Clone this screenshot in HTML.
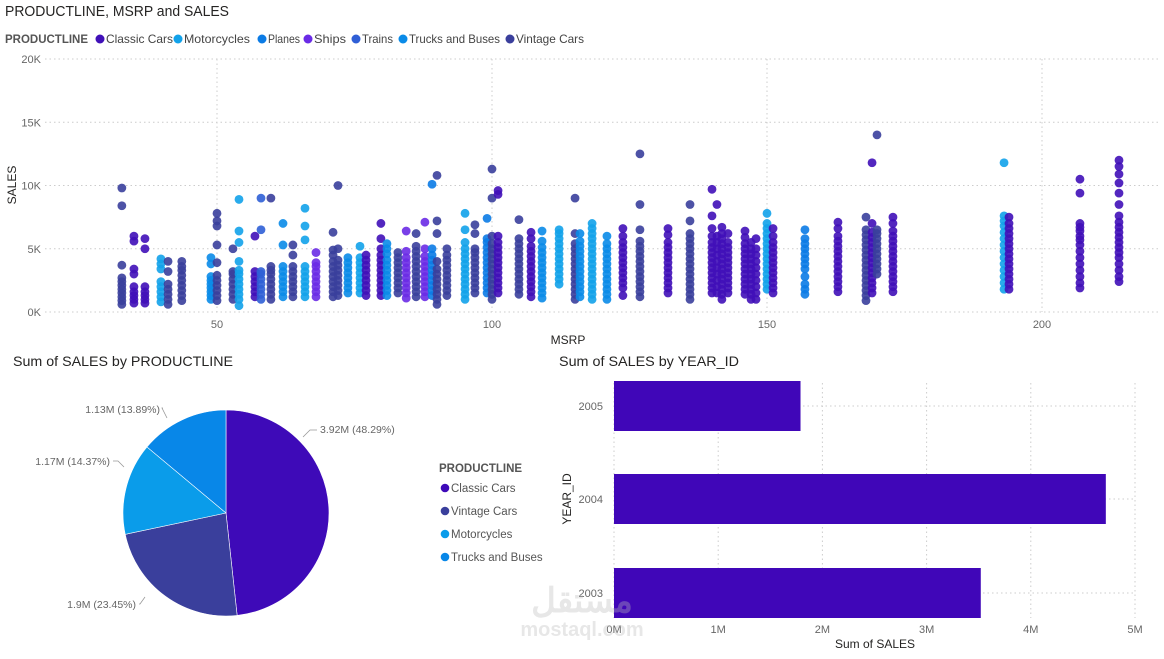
<!DOCTYPE html>
<html><head><meta charset="utf-8"><style>
html,body{margin:0;padding:0;background:#fff;}
body{width:1164px;height:654px;overflow:hidden;font-family:"Liberation Sans","DejaVu Sans",sans-serif;}
svg text{font-family:"Liberation Sans","Noto Sans CJK SC",sans-serif;}
</style></head><body>
<svg id="root" width="1164" height="654" viewBox="0 0 1164 654" xmlns="http://www.w3.org/2000/svg">
<text x="5" y="16" font-size="15" fill="#252423" textLength="224" lengthAdjust="spacingAndGlyphs">PRODUCTLINE, MSRP and SALES</text>
<g id="legend"></g>
<g id="scatter"></g>
<text x="568" y="344" font-size="12" fill="#252423" text-anchor="middle">MSRP</text>
<text transform="translate(16,185) rotate(-90)" font-size="12" fill="#252423" text-anchor="middle">SALES</text>
<text x="13" y="366" font-size="14" fill="#252423" textLength="220" lengthAdjust="spacingAndGlyphs">Sum of SALES by PRODUCTLINE</text>
<g id="pie"></g>
<g id="pieLegend"></g>
<text x="559" y="366" font-size="14" fill="#252423" textLength="180" lengthAdjust="spacingAndGlyphs">Sum of SALES by YEAR_ID</text>
<g id="bars"></g>
<text transform="translate(571,499) rotate(-90)" font-size="12" fill="#252423" text-anchor="middle">YEAR_ID</text>
<text x="875" y="648" font-size="12" fill="#252423" text-anchor="middle">Sum of SALES</text>
<g opacity="0.35"><text x="582" y="612" font-size="34" font-weight="bold" fill="#bbb" text-anchor="middle" font-family="DejaVu Sans,sans-serif">مستقل</text><text x="582" y="636" font-size="20" font-weight="bold" fill="#bbb" text-anchor="middle">mostaql.com</text></g>
</svg>
<script>
const NS="http://www.w3.org/2000/svg";
const lineNames=["Classic Cars","Motorcycles","Planes","Ships","Trains","Trucks and Buses","Vintage Cars"];
const lineColors=["#4010b8","#12a2ea","#0b7be5","#6a2be6","#2f5fd6","#0a8be8","#3a3f9c"];
// scatter columns: msrp, productline index, sales (K)
const colMsrp=[32.7,34.9,36.9,39.8,41.1,43.6,48.9,50,52.9,54,56.9,58,59.8,62,63.8,66,68,71.1,72,73.8,76,77.1,79.8,80.9,82.9,84.4,86.2,87.8,89.1,90,91.8,95.1,96.9,99.1,100,101.1,104.9,107.1,109.1,112.2,115.1,116,118.2,120.9,123.8,126.9,132,136,140,140.9,141.8,142.9,146,147.1,148,150,151.1,156.9,162.9,168,169.1,170,172.9,193.1,194,206.9,214];
const colLine=[6,0,0,1,6,6,5,6,6,1,0,4,6,5,6,1,3,6,6,5,1,0,0,5,6,3,6,3,2,6,6,1,6,2,6,0,6,0,5,1,6,5,1,5,0,6,0,6,0,0,0,0,0,0,0,1,0,2,0,6,0,6,0,1,0,0,0];
const colSales=[
[0.6,0.9,1.2,1.5,1.8,2.1,2.4,2.7,3.7,8.4,9.8],
[0.7,1.0,1.3,1.6,2.0,3.0,3.4,5.6,6.0],
[0.7,1.0,1.3,1.6,2.0,5.0,5.8],
[0.8,1.2,1.6,2.0,2.4,3.4,3.8,4.2],
[0.6,1.0,1.4,1.8,2.2,3.2,4.0],
[0.9,1.3,1.7,2.1,2.5,2.9,3.3,3.6,4.0],
[1.0,1.3,1.6,1.9,2.2,2.5,2.8,3.8,4.3],
[0.9,1.3,1.7,2.1,2.5,2.9,3.9,5.3,6.8,7.2,7.8],
[1.0,1.4,1.8,2.2,2.6,3.0,3.2,5.0],
[0.5,1.0,1.4,1.8,2.2,2.6,3.0,3.3,4.0,5.5,6.4,8.9],
[1.2,1.6,2.0,2.4,2.8,3.2,6.0],
[1.0,1.4,1.8,2.2,2.6,3.0,3.2,6.5,9.0],
[1.0,1.4,1.8,2.2,2.6,3.0,3.3,3.6,9.0],
[1.2,1.6,2.0,2.4,2.8,3.2,3.6,5.3,7.0],
[1.2,1.6,2.0,2.4,2.8,3.2,3.6,4.5,5.3],
[1.2,1.6,2.0,2.4,2.8,3.2,3.6,5.7,6.8,8.2],
[1.2,1.6,2.0,2.4,2.8,3.2,3.6,3.9,4.7],
[1.2,1.6,2.0,2.4,2.8,3.2,3.6,4.0,4.5,4.9,6.3],
[1.3,1.7,2.1,2.5,2.9,3.3,3.7,4.1,5.0,10.0],
[1.5,1.9,2.3,2.7,3.1,3.5,3.9,4.3],
[1.5,1.9,2.3,2.7,3.1,3.5,3.9,4.3,5.2],
[1.3,1.7,2.1,2.5,2.9,3.3,3.7,4.1,4.5],
[1.3,1.7,2.1,2.5,2.9,3.3,3.7,4.1,4.5,5.0,5.8,7.0],
[1.3,1.7,2.1,2.5,2.9,3.3,3.7,4.1,4.6,5.0,5.4],
[1.5,1.9,2.3,2.7,3.1,3.5,3.9,4.3,4.7],
[1.1,1.5,1.9,2.3,2.7,3.1,3.5,3.9,4.3,4.8,6.4],
[1.2,1.6,2.0,2.4,2.8,3.2,3.6,4.0,4.4,4.8,5.2,6.2],
[1.2,1.6,2.0,2.4,2.8,3.2,3.6,4.0,4.4,5.0,7.1],
[1.3,1.7,2.1,2.5,2.9,3.3,3.7,4.1,4.5,5.0,10.1],
[0.6,1.0,1.4,1.8,2.2,2.6,3.0,3.4,4.0,6.2,7.2,10.8],
[1.3,1.7,2.1,2.5,2.9,3.3,3.7,4.1,4.5,5.0],
[1.0,1.4,1.8,2.2,2.6,3.0,3.4,3.8,4.2,4.6,5.0,5.5,6.5,7.8],
[1.5,1.9,2.3,2.7,3.1,3.5,3.9,4.3,4.7,5.0,6.2,6.9],
[1.5,1.9,2.3,2.7,3.1,3.5,3.9,4.3,4.7,5.1,5.5,5.8,7.4],
[1.0,1.4,1.8,2.2,2.6,3.0,3.4,3.8,4.2,4.6,5.0,5.4,6.0,9.0,11.3],
[1.5,1.9,2.3,2.7,3.1,3.5,3.9,4.3,4.7,5.1,5.5,6.0,9.3,9.6],
[1.4,1.8,2.2,2.6,3.0,3.4,3.8,4.2,4.6,5.0,5.4,5.8,7.3],
[1.2,1.6,2.0,2.4,2.8,3.2,3.6,4.0,4.4,4.8,5.2,5.8,6.3],
[1.1,1.5,1.9,2.3,2.7,3.1,3.5,3.9,4.3,4.7,5.1,5.6,6.4],
[2.2,2.6,3.0,3.4,3.8,4.2,4.6,5.0,5.4,5.8,6.2,6.5],
[1.0,1.4,1.8,2.2,2.6,3.0,3.4,3.8,4.2,4.6,5.0,5.4,6.2,9.0],
[1.2,1.6,2.0,2.4,2.8,3.2,3.6,4.0,4.4,4.8,5.2,5.6,6.2],
[1.0,1.4,1.8,2.2,2.6,3.0,3.4,3.8,4.2,4.6,5.0,5.4,5.8,6.2,6.6,7.0],
[1.0,1.4,1.8,2.2,2.6,3.0,3.4,3.8,4.2,4.6,5.0,5.4,6.0],
[1.3,1.9,2.3,2.7,3.1,3.5,3.9,4.3,4.7,5.1,5.5,6.0,6.6],
[1.2,1.6,2.0,2.4,2.8,3.2,3.6,4.0,4.4,4.8,5.2,5.6,6.5,8.5,12.5],
[1.5,1.9,2.3,2.7,3.1,3.5,3.9,4.3,4.7,5.1,5.5,6.1,6.6],
[1.0,1.4,1.8,2.2,2.6,3.0,3.4,3.8,4.2,4.6,5.0,5.4,5.8,6.2,7.2,8.5],
[1.5,1.9,2.3,2.7,3.1,3.5,3.9,4.3,4.7,5.1,5.5,6.0,6.6,7.6,9.7],
[1.5,2.0,2.5,3.0,3.5,4.0,4.5,5.0,5.5,6.0,8.5],
[1.0,1.4,1.8,2.2,2.6,3.0,3.4,3.8,4.2,4.6,5.0,5.4,5.8,6.2,6.7],
[1.5,1.9,2.3,2.7,3.1,3.5,3.9,4.3,4.7,5.1,5.5,6.2],
[1.4,1.8,2.2,2.6,3.0,3.4,3.8,4.2,4.6,5.0,5.4,5.9,6.4],
[1.0,1.4,1.8,2.2,2.6,3.0,3.4,3.8,4.2,4.6,5.0,5.5],
[1.0,1.5,2.0,2.5,3.0,3.5,4.0,4.5,5.0,5.8],
[1.8,2.2,2.6,3.0,3.4,3.8,4.2,4.6,5.0,5.4,5.8,6.2,6.6,7.0,7.8],
[1.5,1.9,2.3,2.7,3.1,3.5,3.9,4.3,4.7,5.1,5.5,6.0,6.6],
[1.4,1.8,2.2,2.8,3.4,3.8,4.2,4.6,5.0,5.4,5.8,6.5],
[1.6,2.0,2.4,2.8,3.2,3.6,4.0,4.4,4.8,5.2,5.6,6.0,6.6,7.1],
[0.9,1.3,1.7,2.1,2.5,2.9,3.3,3.7,4.1,4.5,4.9,5.3,5.7,6.1,6.5,7.5],
[1.5,1.9,2.3,2.7,3.1,3.5,3.9,4.3,4.7,5.1,5.5,5.9,6.3,7.0,11.8],
[3.0,3.4,3.8,4.2,4.6,5.0,5.4,5.8,6.2,6.5,14.0],
[1.6,2.0,2.4,2.8,3.2,3.6,4.0,4.4,4.8,5.2,5.6,6.0,6.4,7.0,7.5],
[1.8,2.3,2.8,3.3,3.8,4.3,4.8,5.3,5.8,6.3,6.8,7.2,7.6,11.8],
[1.8,2.2,2.6,3.0,3.4,3.8,4.2,4.6,5.0,5.4,5.8,6.2,6.6,7.0,7.5],
[1.9,2.3,2.8,3.3,3.8,4.3,4.8,5.3,5.7,6.0,6.4,6.7,7.0,9.4,10.5],
[2.4,2.8,3.3,3.8,4.3,4.7,5.1,5.5,5.9,6.3,6.7,7.1,7.6,8.5,9.4,10.2,10.9,11.5,12.0]
];
const xTicks=[50,100,150,200];
const yTicks=[0,5,10,15,20];
// pie
const pieNames=["Classic Cars","Vintage Cars","Motorcycles","Trucks and Buses"];
const pieValues=[3.92,1.9,1.17,1.13];
const piePct=[48.29,23.45,14.37,13.89];
const pieColors=["#3e0ab8","#3a3f9c","#0a9cea","#0887e8"];
// bars
const years=["2005","2004","2003"];
const yearSales=[1.79,4.72,3.52];
const barTicks=[0,1,2,3,4,5];

function mk(tag,attrs,parent){const e=document.createElementNS(NS,tag);for(const k in attrs)e.setAttribute(k,attrs[k]);parent.appendChild(e);return e;}

// legend
const lg=document.getElementById('legend');
let t=mk('text',{x:5,y:43,'font-size':12,'font-weight':'bold',fill:'#555',textLength:83,lengthAdjust:'spacingAndGlyphs'},lg);t.textContent='PRODUCTLINE';


const legX=[100,178,262,308,356,403,510];
const legW=[67,66,32,32,31,91,68];
lineNames.forEach((n,i)=>{
  const g=mk('g',{},lg);
  
  
  mk('circle',{cx:legX[i],cy:39,r:4.5,fill:lineColors[i]},g);
  const tt=mk('text',{x:legX[i]+6,y:43,'font-size':12,fill:'#444',textLength:legW[i],lengthAdjust:'spacingAndGlyphs'},g);tt.textContent=n;
});

// scatter axes
const sx=v=>217+(v-50)*5.5;
const sy=v=>312-v*12.65;
const sc=document.getElementById('scatter');
yTicks.forEach(v=>{
  const l=mk('line',{x1:45,x2:1160,y1:sy(v),y2:sy(v),stroke:'#ccc','stroke-dasharray':'1.5,3'},sc);
  
  
  const tx=mk('text',{x:41,y:sy(v)+4,'font-size':11,fill:'#666','text-anchor':'end'},sc);tx.textContent=v+'K';
  
  
});
xTicks.forEach(v=>{
  const l=mk('line',{x1:sx(v),x2:sx(v),y1:59,y2:312,stroke:'#ccc','stroke-dasharray':'1.5,3'},sc);
  
  
  const tx=mk('text',{x:sx(v),y:328,'font-size':11,fill:'#666','text-anchor':'middle'},sc);tx.textContent=v;
  
  
});
colMsrp.forEach((m,i)=>{
  colSales[i].forEach(s=>{
    const c=mk('circle',{cx:sx(m),cy:sy(s),r:4.4,fill:lineColors[colLine[i]],'fill-opacity':0.9},sc);
    
    
  });
});

// pie
const pg=document.getElementById('pie');
const cx=226,cy=513,R=103;
const total=pieValues.reduce((a,b)=>a+b,0);
let ang=0;
const labelPos=[[320,433,'start'],[136,608,'end'],[110,465,'end'],[160,413,'end']];
const leaders=["303,437 310,430 317,430","145,597 140,604 139,604","124,467 118,461 113,461","167,418 162,408 163,408"];
pieValues.forEach((v,i)=>{
  const a0=ang, a1=ang+v/total*2*Math.PI; ang=a1;
  const p=(a)=>[cx+R*Math.sin(a),cy-R*Math.cos(a)];
  const [x0,y0]=p(a0),[x1,y1]=p(a1);
  const large=(a1-a0)>Math.PI?1:0;
  const s=mk('path',{d:`M${cx},${cy}L${x0},${y0}A${R},${R} 0 ${large} 1 ${x1},${y1}Z`,fill:pieColors[i],stroke:'#fff','stroke-width':0.6},pg);
  
  
  const lp=labelPos[i];
  mk('polyline',{points:leaders[i],fill:'none',stroke:'#999','stroke-width':0.8},pg);
  const tx=mk('text',{x:lp[0],y:lp[1],'font-size':10.5,fill:'#666','text-anchor':lp[2]},pg);
  tx.textContent=pieValues[i]+'M ('+piePct[i].toFixed(2)+'%)';
  
  
});
const pl=document.getElementById('pieLegend');
t=mk('text',{x:439,y:472,'font-size':11.5,'font-weight':'bold',fill:'#555'},pl);t.textContent='PRODUCTLINE';
pieNames.forEach((n,i)=>{
  const g=mk('g',{},pl);
  
  
  const y=488+i*23;
  mk('circle',{cx:445,cy:y,r:4.3,fill:pieColors[i]},g);
  const tt=mk('text',{x:451,y:y+4,'font-size':11.5,fill:'#555'},g);tt.textContent=n;
});

// bars
const bg=document.getElementById('bars');
const bx=v=>614+v*104.2;
const bandTop=[381,474,568];
barTicks.forEach(v=>{
  const l=mk('line',{x1:bx(v),x2:bx(v),y1:383,y2:618,stroke:'#ccc','stroke-dasharray':'1.5,3'},bg);
  
  
  const tx=mk('text',{x:bx(v),y:633,'font-size':11,fill:'#666','text-anchor':'middle'},bg);tx.textContent=v+'M';
  
  
});
years.forEach((y,i)=>{
  const cyy=bandTop[i]+25;
  mk('line',{x1:614,x2:bx(5),y1:cyy,y2:cyy,stroke:'#ccc','stroke-dasharray':'1.5,3'},bg);
  const r=mk('rect',{x:614,y:bandTop[i],width:bx(yearSales[i])-614,height:50,fill:'#4006b8'},bg);
  
  
  const tx=mk('text',{x:603,y:cyy+4,'font-size':11,fill:'#666','text-anchor':'end'},bg);tx.textContent=y;
  
  
});
</script>
</body></html>
